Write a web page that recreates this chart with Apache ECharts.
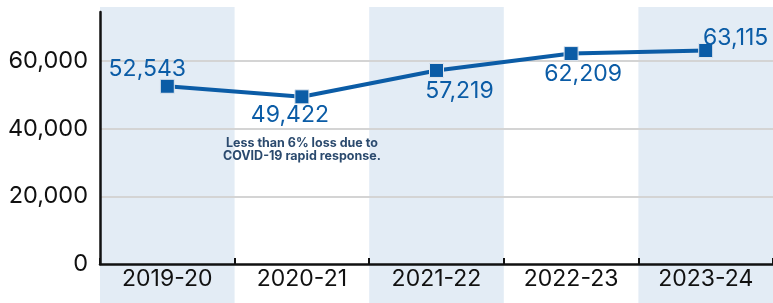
<!DOCTYPE html>
<html><head><meta charset="utf-8">
<script src="https://cdn.jsdelivr.net/npm/echarts@6/dist/echarts.min.js"></script>
<style>html,body{margin:0;padding:0;background:#fff}#c{width:773px;height:303px}</style>
</head><body><div id="c"></div>
<script>
const categories = ['2019-20', '2020-21', '2021-22', '2022-23', '2023-24'];
const values = [52543, 49422, 57219, 62209, 63115];
const valueLabels = ['52,543', '49,422', '57,219', '62,209', '63,115'];
const labelOffsets = [[-20, -17], [-12, 18], [23, 21], [12, 21], [30, -12]];
const yTicks = [0, 20000, 40000, 60000];
const noteText = 'Less than 6% loss due to\nCOVID-19 rapid response.';
const noteIndex = 1;

const FONT = 'Inter';
const BLUE = '#0b5ca6';
const chart = echarts.init(document.getElementById('c'), null, {renderer: 'canvas'});

const seriesData = values.map((v, i) => ({
  value: v,
  label: {show: true, position: 'inside', offset: labelOffsets[i], formatter: valueLabels[i]}
}));

chart.setOption({
  animation: false,
  backgroundColor: '#fff',
  grid: [
    {left: 100, right: 0, top: 7, bottom: 0},
    {left: 100, right: 0, top: 12, bottom: 39}
  ],
  xAxis: [
    {type: 'category', gridIndex: 0, data: categories, z: 0,
     axisLine: {show: false}, axisTick: {show: false}, axisLabel: {show: false},
     splitLine: {show: false},
     splitArea: {show: true, areaStyle: {color: ['#e3ecf5', 'rgba(255,255,255,0)']}}},
    {type: 'category', gridIndex: 1, data: categories, z: 1, boundaryGap: true,
     axisLine: {show: true, lineStyle: {color: '#111', width: 2.5}},
     axisTick: {show: true, inside: true, length: 6, lineStyle: {color: '#111', width: 2}},
     axisLabel: {color: '#111', fontFamily: FONT, fontSize: 23, margin: 4},
     splitLine: {show: false}}
  ],
  yAxis: [
    {type: 'value', gridIndex: 0, show: false, min: 0, max: 1},
    {type: 'value', gridIndex: 1, min: 0, max: 74500, interval: 20000, z: 1,
     axisLine: {show: true, lineStyle: {color: '#111', width: 2.5}},
     axisTick: {show: false},
     axisLabel: {color: '#111', fontFamily: FONT, fontSize: 23.5, margin: 12, showMaxLabel: false,
       formatter: v => yTicks.includes(v) ? v.toLocaleString('en-US') : ''},
     splitLine: {show: true, showMaxLine: false, showMinLine: false, lineStyle: {color: '#d4d4d4', width: 2}}}
  ],
  series: [{
    type: 'line', xAxisIndex: 1, yAxisIndex: 1, z: 3,
    data: seriesData,
    symbol: 'rect', symbolSize: 14,
    lineStyle: {color: BLUE, width: 4},
    itemStyle: {color: BLUE, borderColor: '#dfe6ee', borderWidth: 1},
    label: {color: BLUE, fontFamily: FONT, fontSize: 23},
    markPoint: {
      symbol: 'circle', symbolSize: 0,
      data: [{coord: [noteIndex, values[noteIndex]], value: 0}],
      label: {show: true, position: 'inside', offset: [0, 53], formatter: noteText,
        color: '#2b4a6e', fontFamily: FONT, fontWeight: 'bold', fontSize: 12.5, lineHeight: 13.5, align: 'center'}
    }
  }]
});
</script></body></html>
